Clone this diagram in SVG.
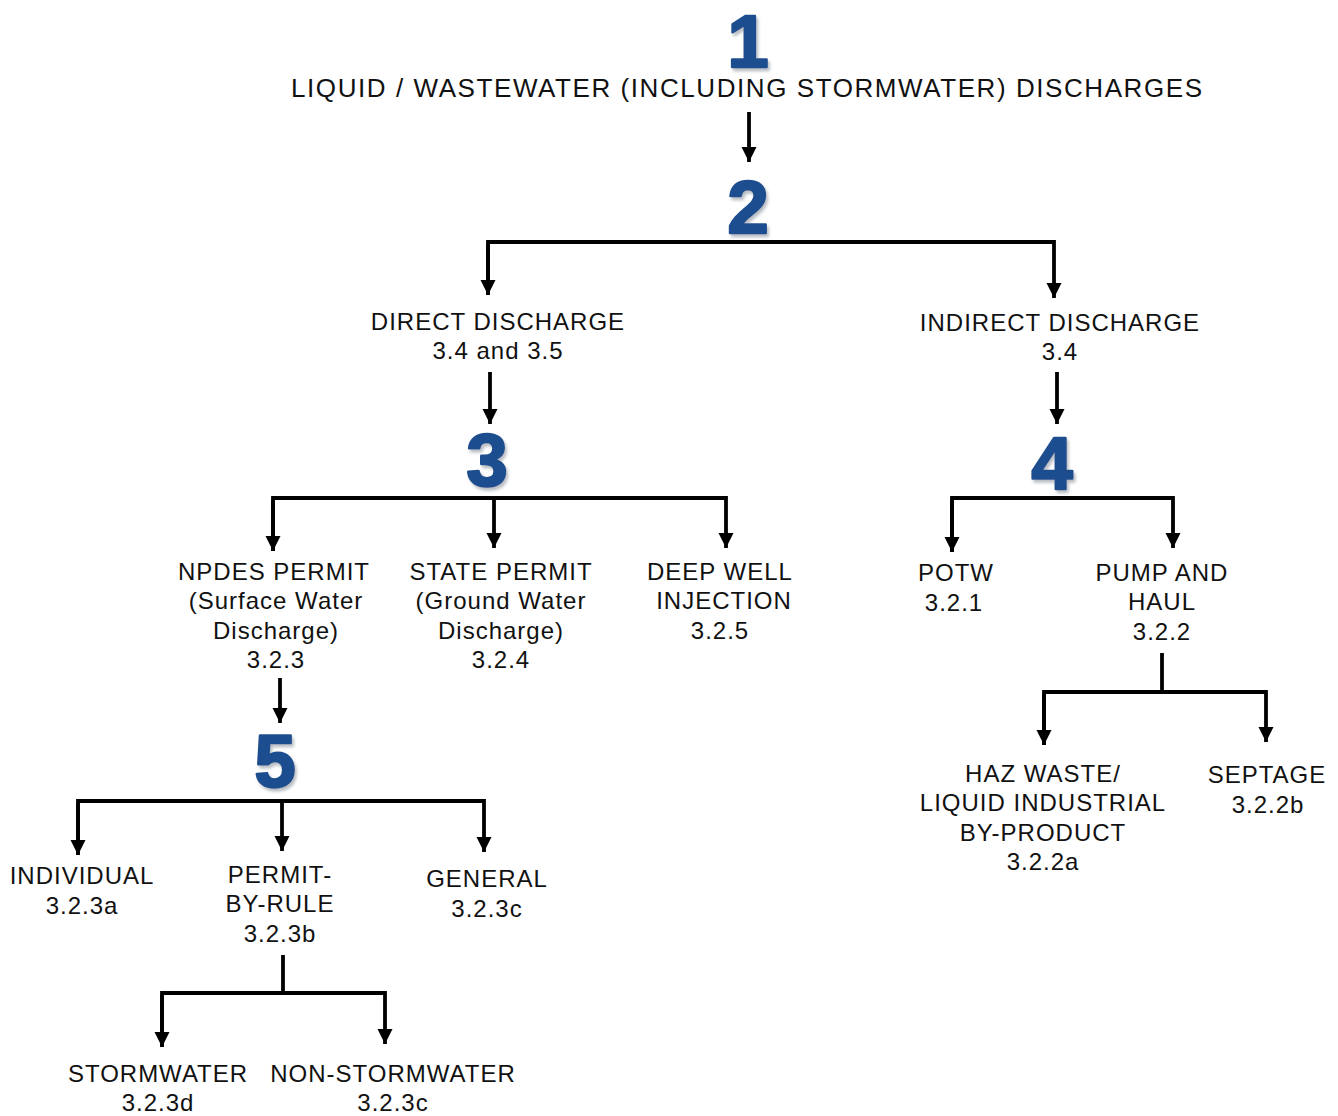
<svg xmlns="http://www.w3.org/2000/svg" width="1338" height="1116" viewBox="0 0 1338 1116">
<style>
.t{font-family:"Liberation Sans",Arial,sans-serif;font-size:24px;fill:#111;text-anchor:middle;letter-spacing:1px}
.ttl{font-size:26px}
.n{font-family:"Liberation Sans",Arial,sans-serif;font-weight:bold;font-size:74px;fill:#1f4e8f;stroke:#1f4e8f;stroke-width:2.5;stroke-linejoin:round;text-anchor:middle;filter:url(#sh)}
.c{fill:none;stroke:#000;stroke-width:3.8}
</style>
<defs>
<marker id="ah" viewBox="0 0 10 10" refX="10" refY="5" markerWidth="4" markerHeight="4" markerUnits="strokeWidth" orient="auto">
<path d="M0,0 L10,5 L0,10 z" fill="#000"/>
</marker>
<filter id="sh" x="-30%" y="-20%" width="160%" height="150%">
<feDropShadow dx="2" dy="3" stdDeviation="1.5" flood-color="#8a929c" flood-opacity="0.6"/>
</filter>
</defs>
<rect width="1338" height="1116" fill="#fff"/>

<g id="connectors">
<path class="c" d="M749,112 V162" marker-end="url(#ah)"/>
<path class="c" d="M488,295 V242 H1054 V298" marker-end="url(#ah)"/>
<path class="c" d="M488,244 V295" marker-end="url(#ah)"/>
<path class="c" d="M490,372 V424" marker-end="url(#ah)"/>
<path class="c" d="M1057,372 V424" marker-end="url(#ah)"/>
<path class="c" d="M273,551 V498 H726 V548" marker-end="url(#ah)"/>
<path class="c" d="M273,500 V551" marker-end="url(#ah)"/>
<path class="c" d="M494,498 V548" marker-end="url(#ah)"/>
<path class="c" d="M280,678 V723" marker-end="url(#ah)"/>
<path class="c" d="M952,552 V498 H1173 V548" marker-end="url(#ah)"/>
<path class="c" d="M952,500 V552" marker-end="url(#ah)"/>
<path class="c" d="M1162,653 V692"/>
<path class="c" d="M1044,745 V692 H1266 V742" marker-end="url(#ah)"/>
<path class="c" d="M1044,694 V745" marker-end="url(#ah)"/>
<path class="c" d="M78,855 V801 H484 V852" marker-end="url(#ah)"/>
<path class="c" d="M78,803 V855" marker-end="url(#ah)"/>
<path class="c" d="M282,801 V851" marker-end="url(#ah)"/>
<path class="c" d="M283,955 V993"/>
<path class="c" d="M162,1047 V993 H385 V1044" marker-end="url(#ah)"/>
<path class="c" d="M162,995 V1047" marker-end="url(#ah)"/>
</g>

<g id="n1">
<text class="n" x="748" y="67">1</text>
<text class="t ttl" x="747" y="97" textLength="912" lengthAdjust="spacing">LIQUID / WASTEWATER (INCLUDING STORMWATER) DISCHARGES</text>
</g>
<g id="n2">
<text class="n" x="748" y="233">2</text>
</g>
<g id="direct">
<text class="t" x="498" y="330">DIRECT DISCHARGE</text>
<text class="t" x="498" y="359">3.4 and 3.5</text>
</g>
<g id="indirect">
<text class="t" x="1060" y="331">INDIRECT DISCHARGE</text>
<text class="t" x="1060" y="360">3.4</text>
</g>
<g id="n3">
<text class="n" x="487" y="486">3</text>
</g>
<g id="n4">
<text class="n" x="1052" y="489">4</text>
</g>
<g id="npdes">
<text class="t" x="274" y="580">NPDES PERMIT</text>
<text class="t" x="276" y="609">(Surface Water</text>
<text class="t" x="276" y="639">Discharge)</text>
<text class="t" x="276" y="668">3.2.3</text>
</g>
<g id="state">
<text class="t" x="501" y="580">STATE PERMIT</text>
<text class="t" x="501" y="609">(Ground Water</text>
<text class="t" x="501" y="639">Discharge)</text>
<text class="t" x="501" y="668">3.2.4</text>
</g>
<g id="deepwell">
<text class="t" x="720" y="580">DEEP WELL</text>
<text class="t" x="724" y="609">INJECTION</text>
<text class="t" x="720" y="639">3.2.5</text>
</g>
<g id="potw">
<text class="t" x="956" y="581">POTW</text>
<text class="t" x="954" y="611">3.2.1</text>
</g>
<g id="pumphaul">
<text class="t" x="1162" y="581">PUMP AND</text>
<text class="t" x="1162" y="610">HAUL</text>
<text class="t" x="1162" y="640">3.2.2</text>
</g>
<g id="hazwaste">
<text class="t" x="1043" y="782">HAZ WASTE/</text>
<text class="t" x="1043" y="811">LIQUID INDUSTRIAL</text>
<text class="t" x="1043" y="841">BY-PRODUCT</text>
<text class="t" x="1043" y="870">3.2.2a</text>
</g>
<g id="septage">
<text class="t" x="1267" y="783">SEPTAGE</text>
<text class="t" x="1268" y="813">3.2.2b</text>
</g>
<g id="n5">
<text class="n" x="275" y="787">5</text>
</g>
<g id="individual">
<text class="t" x="82" y="884">INDIVIDUAL</text>
<text class="t" x="82" y="914">3.2.3a</text>
</g>
<g id="pbr">
<text class="t" x="280" y="883">PERMIT-</text>
<text class="t" x="280" y="912">BY-RULE</text>
<text class="t" x="280" y="942">3.2.3b</text>
</g>
<g id="general">
<text class="t" x="487" y="887">GENERAL</text>
<text class="t" x="487" y="917">3.2.3c</text>
</g>
<g id="stormwater">
<text class="t" x="158" y="1082">STORMWATER</text>
<text class="t" x="158" y="1111">3.2.3d</text>
</g>
<g id="nonstormwater">
<text class="t" x="393" y="1082">NON-STORMWATER</text>
<text class="t" x="393" y="1111">3.2.3c</text>
</g>
</svg>
